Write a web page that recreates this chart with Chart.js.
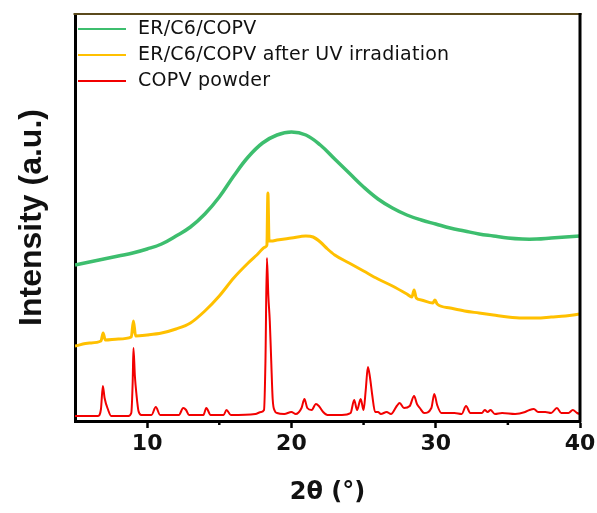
<!DOCTYPE html>
<html lang="en">
<head>
    <meta charset="UTF-8">
    <title>XRD patterns</title>
    <style>
        html, body { margin: 0; padding: 0; background: #fff; }
        .wrap { position: relative; width: 597px; height: 513px; }
    </style>
</head>
<body>
    <div class="wrap"><canvas id="xrdChart"></canvas></div>

    <script src="https://cdn.jsdelivr.net/npm/chart.js@4"></script>
    <script>
        // Series labels and colours
        const seriesLabels = ['ER/C6/COPV', 'ER/C6/COPV after UV irradiation', 'COPV powder'];
        const seriesColors = ['#3DBE6E', '#FFC000', '#F20000'];

        // Axis ticks
        const xTicks = [10, 20, 30, 40];
        const xMinorTicks = [15, 25, 35];

        // ER/C6/COPV (green) - broad amorphous hump
        const greenTheta = [5, 6, 7, 8, 9, 10, 11, 12, 13, 14, 15, 16, 17, 18, 19, 20, 21, 22, 23, 24, 25,
            26, 27, 28, 29, 30, 31, 32, 33, 34, 35, 36, 37, 38, 39, 40];
        const greenIntensity = [156, 159, 162, 165, 168, 172, 177, 185, 194, 207, 224, 245, 264, 278, 286, 289, 286, 276, 262, 248, 234,
            222, 213, 206, 201, 197, 193, 190, 187, 185, 183, 182, 182, 183, 184, 185];

        // ER/C6/COPV after UV irradiation (yellow)
        const yellowTheta = [5, 6, 6.8, 6.95, 7.1, 8, 8.9, 9.05, 9.2, 10, 11, 12, 13, 14, 15, 16, 17, 17.6,
            18.2, 18.3, 18.37, 18.45, 18.6, 19, 20, 21, 21.5, 22, 22.5, 23, 24, 25, 26, 27, 28, 28.35, 28.5,
            28.65, 29, 29.8, 29.95, 30.1, 31, 32, 33, 34, 35, 36, 37, 38, 39, 40];
        const yellowIntensity = [75, 78, 80, 88, 81, 82, 84, 100, 85, 86, 88, 92, 98, 110, 125, 143, 158, 166,
            174, 176, 228, 180, 180, 181, 183, 185, 184, 179, 172, 166, 158, 150, 142, 135, 127, 124, 131,
            123, 121, 118, 121, 117, 113, 110, 108, 106, 104, 103, 103, 104, 105, 107];

        // COPV powder (red)
        const redTheta = [5.0, 6.6, 6.8, 6.93, 7.05, 7.3, 7.5, 8.7, 8.9, 9.0, 9.05, 9.15, 9.25, 9.4, 9.6,
            10.3, 10.6, 10.9, 12.2, 12.5, 12.7, 12.9, 13.9, 14.1, 14.4, 15.3, 15.5, 15.8, 17.5, 17.9, 18.1,
            18.2, 18.3, 18.4, 18.5, 18.6, 18.7, 18.85, 19.0, 19.5, 20.0, 20.3, 20.7, 20.9, 21.1, 21.4, 21.7,
            21.9, 22.2, 22.5, 23.5, 24.1, 24.35, 24.55, 24.8, 25.0, 25.15, 25.3, 25.45, 25.6, 25.8, 26.0,
            26.2, 26.6, 26.9, 27.3, 27.5, 27.8, 28.2, 28.5, 28.7, 28.9, 29.2, 29.7, 29.9, 30.1, 30.4, 31.3,
            31.8, 32.1, 32.4, 33.2, 33.4, 33.6, 33.8, 34.1, 34.6, 35.5, 36.2, 36.5, 36.8, 37.1, 37.6, 38.0,
            38.4, 38.7, 39.2, 39.5, 39.8, 40.0];
        const redIntensity = [5, 5, 12, 35, 23, 11, 5, 5, 8, 40, 73, 45, 28, 10, 6,
            6, 14, 6, 6, 13, 11, 6, 6, 13, 6, 6, 11, 6, 7, 9, 11,
            60, 163, 125, 100, 60, 22, 10, 8, 7, 9, 7, 13, 22, 13, 11, 17,
            15, 9, 6, 6, 8, 21, 11, 22, 11, 31, 54, 43, 26, 9, 9,
            7, 9, 7, 15, 18, 13, 15, 25, 17, 13, 8, 13, 27, 16, 8, 8,
            7, 15, 8, 8, 11, 9, 11, 7, 8, 7, 9, 11, 12, 9, 9, 8,
            13, 8, 8, 11, 8, 7];

        const toPoints = (xs, ys) => xs.map((x, i) => ({ x: x, y: ys[i] }));
        const seriesData = [
            toPoints(greenTheta, greenIntensity),
            toPoints(yellowTheta, yellowIntensity),
            toPoints(redTheta, redIntensity)
        ];
        const lineWidths = [3.5, 3, 2];
        // smooth hump gets a normal spline, the spiky patterns stay monotone
        const curveModes = ['default', 'monotone', 'monotone'];

        // frame (top + right), minor ticks and the in-plot legend
        const framePlugin = {
            id: 'frame',
            afterDraw(chart) {
                const { ctx, chartArea: a, scales: { x } } = chart;
                ctx.save();
                ctx.lineWidth = 2;
                ctx.strokeStyle = '#5b4a1c';
                ctx.beginPath();
                ctx.moveTo(a.left - 1.5, a.top);
                ctx.lineTo(a.right + 1.5, a.top);
                ctx.stroke();

                ctx.lineWidth = 3;
                ctx.strokeStyle = '#000';
                ctx.beginPath();
                ctx.moveTo(a.right, a.top - 1);
                ctx.lineTo(a.right, a.bottom + 1.5);
                ctx.stroke();

                ctx.lineWidth = 2.5;
                xMinorTicks.forEach(v => {
                    const px = x.getPixelForValue(v);
                    ctx.beginPath();
                    ctx.moveTo(px, a.bottom + 1);
                    ctx.lineTo(px, a.bottom + 4);
                    ctx.stroke();
                });

                ctx.font = '19px "DejaVu Sans"';
                ctx.letterSpacing = '0.25px';
                ctx.textBaseline = 'middle';
                ctx.fillStyle = '#111';
                chart.data.datasets.forEach((ds, i) => {
                    const y = 29 + i * 26;
                    ctx.strokeStyle = ds.borderColor;
                    ctx.lineWidth = 2;
                    ctx.beginPath();
                    ctx.moveTo(a.left + 3, y);
                    ctx.lineTo(a.left + 51, y);
                    ctx.stroke();
                    ctx.fillText(ds.label, a.left + 63, y);
                });
                ctx.restore();
            }
        };

        new Chart(document.getElementById('xrdChart'), {
            type: 'line',
            data: {
                datasets: seriesLabels.map((label, i) => ({
                    label: label,
                    data: seriesData[i],
                    borderColor: seriesColors[i],
                    backgroundColor: seriesColors[i],
                    borderWidth: lineWidths[i],
                    pointRadius: 0,
                    fill: false,
                    tension: 0.4,
                    cubicInterpolationMode: curveModes[i]
                }))
            },
            options: {
                responsive: true,
                maintainAspectRatio: false,
                animation: false,
                layout: { padding: { top: 14, right: 17, left: 0, bottom: 0 } },
                plugins: {
                    legend: { display: false },
                    tooltip: { enabled: false }
                },
                scales: {
                    x: {
                        type: 'linear',
                        min: 5,
                        max: 40,
                        afterBuildTicks: s => { s.ticks = xTicks.map(v => ({ value: v })); },
                        afterFit: s => {
                            s.height = 92;
                            s.paddingLeft = 0;
                            s.paddingRight = 0;
                        },
                        grid: { display: true, drawOnChartArea: false, tickLength: 7, tickWidth: 2.5, tickColor: '#000' },
                        border: { display: true, color: '#000', width: 3 },
                        ticks: {
                            color: '#111',
                            font: { family: 'DejaVu Sans', weight: 'bold', size: 22 },
                            padding: 3,
                            maxRotation: 0,
                            autoSkip: false
                        },
                        title: {
                            display: true,
                            text: '2θ (°)',
                            color: '#111',
                            font: { family: 'DejaVu Sans', weight: 'bold', size: 24 },
                            padding: { top: 0, bottom: 6 }
                        }
                    },
                    y: {
                        min: 0,
                        max: 407,
                        afterFit: s => { s.width = 75; },
                        grid: { display: false, drawTicks: false },
                        border: { display: true, color: '#000', width: 3 },
                        ticks: { display: false },
                        title: {
                            display: true,
                            text: 'Intensity (a.u.)',
                            color: '#111',
                            font: { family: 'Liberation Sans', weight: 'bold', size: 32 },
                            padding: { top: 13, bottom: 0 }
                        }
                    }
                }
            },
            plugins: [framePlugin]
        });
    </script>
</body>
</html>
